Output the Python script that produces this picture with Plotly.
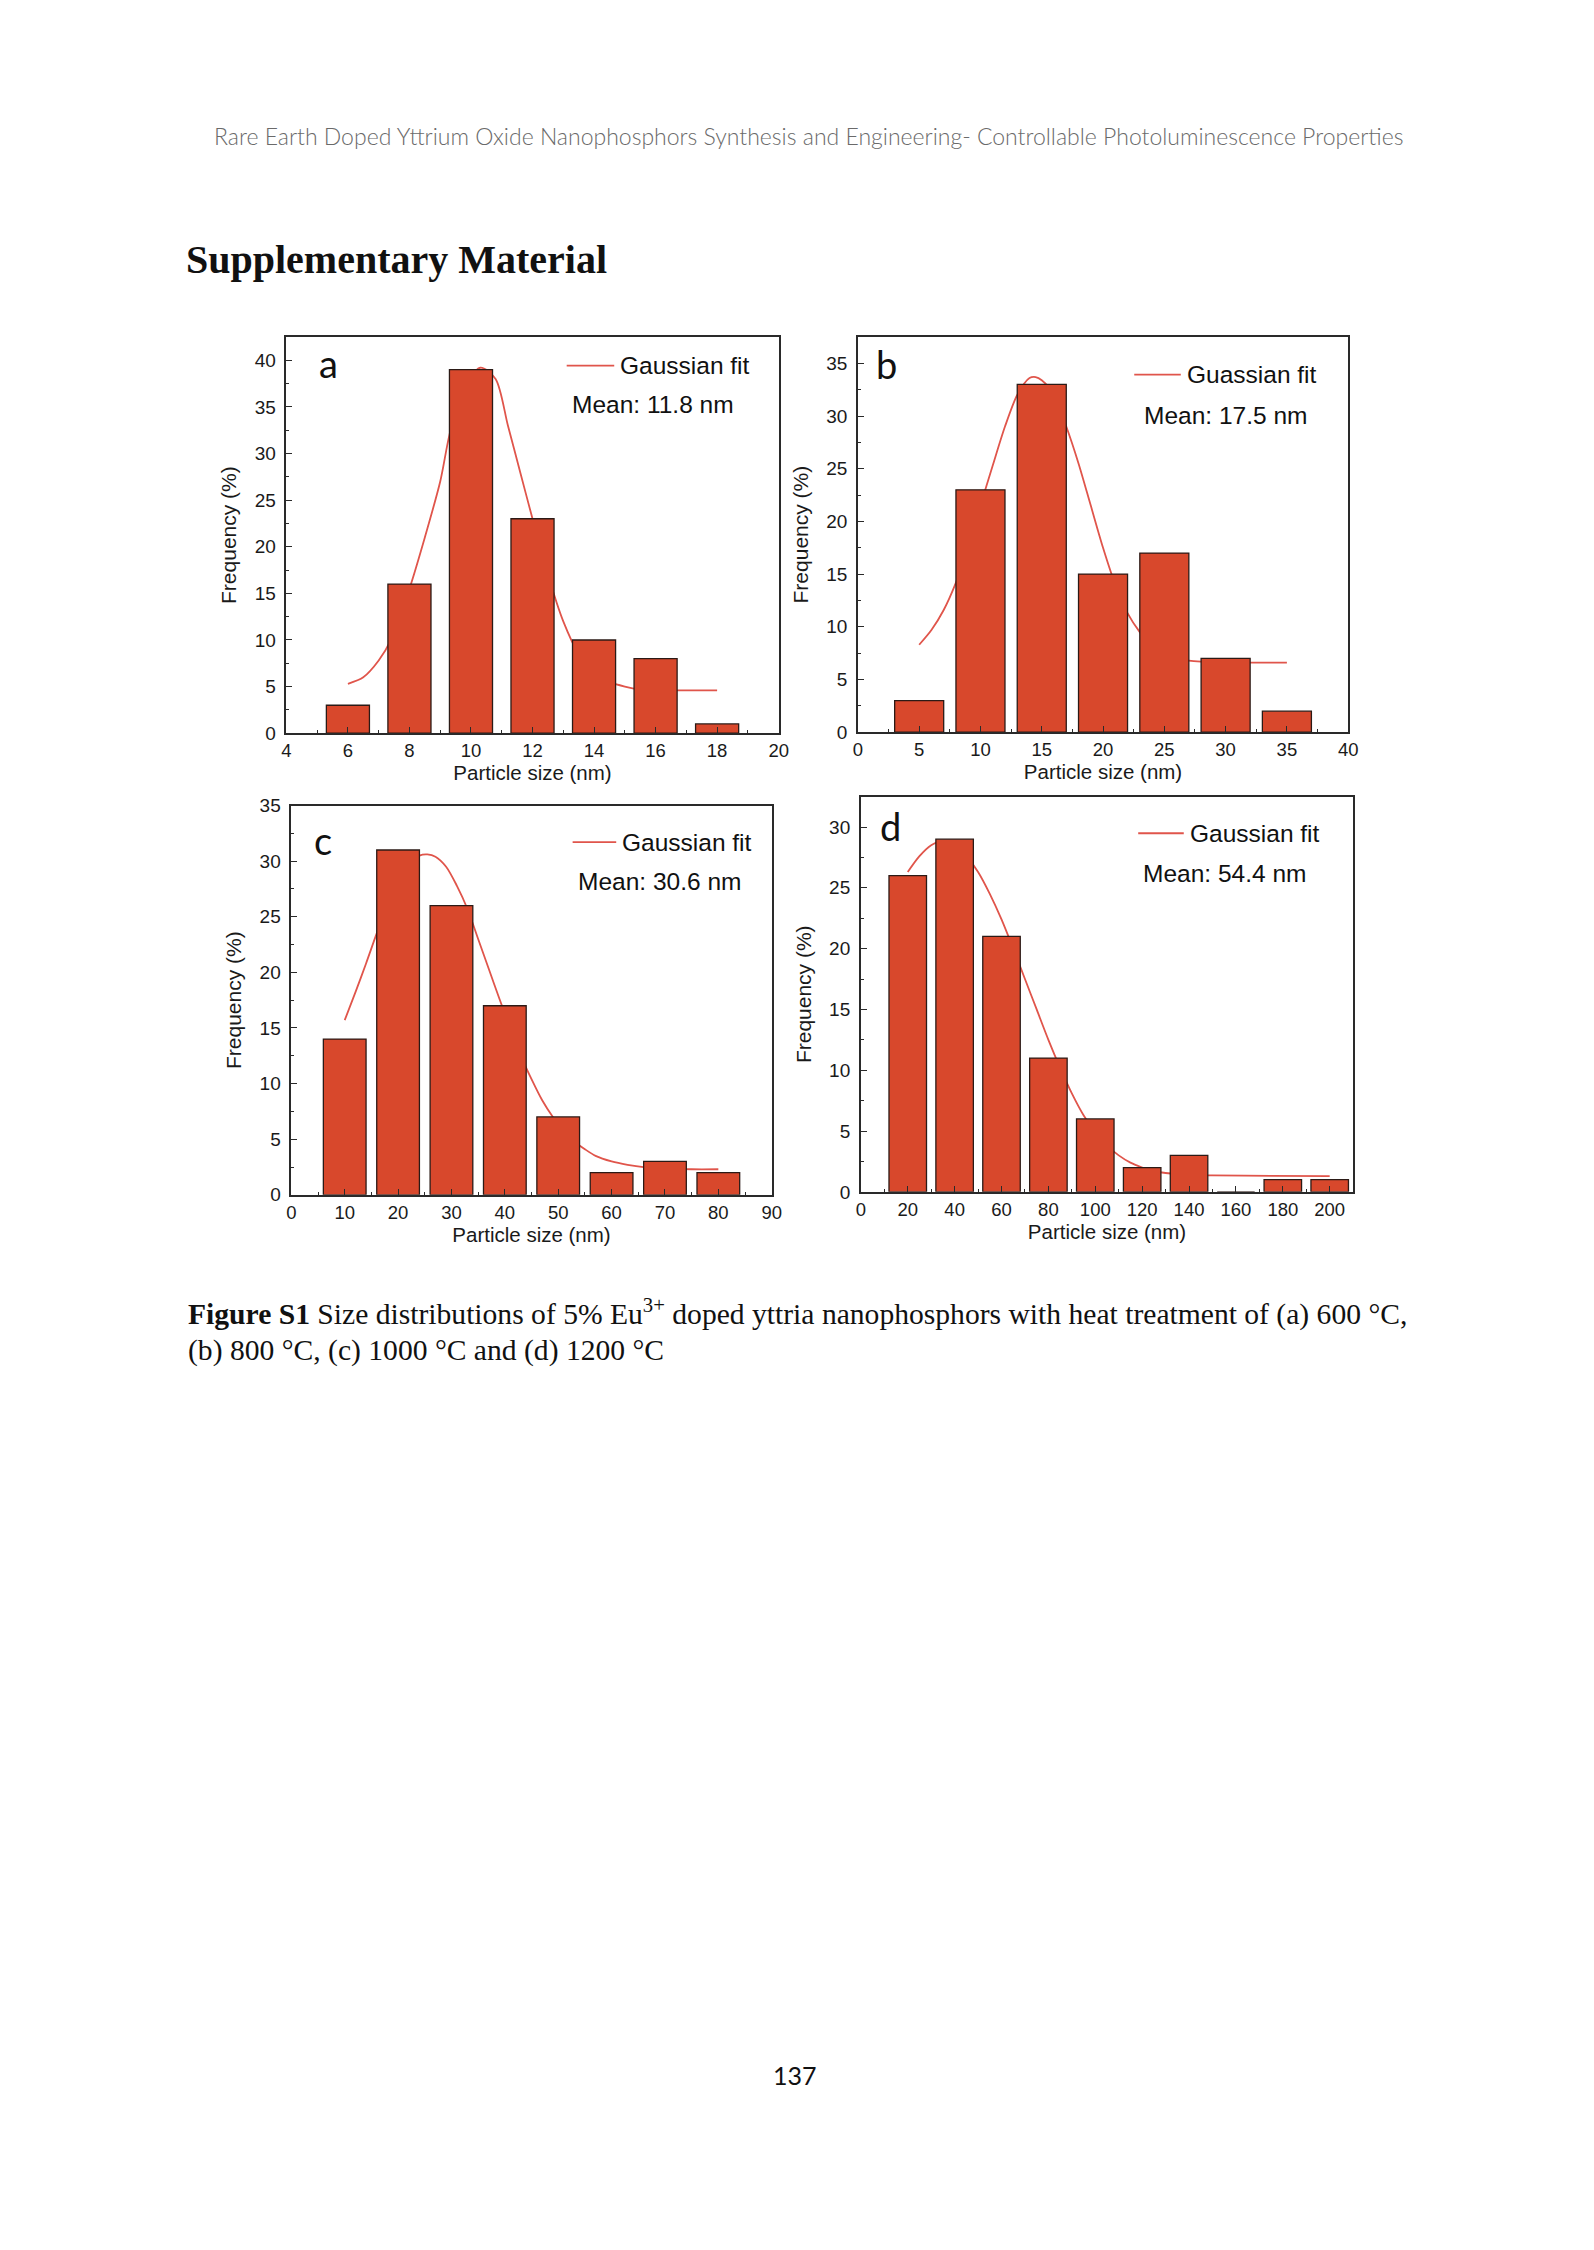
import plotly.graph_objects as go

# ---------------- data ----------------
a_sizes = [6, 8, 10, 12, 14, 16, 18]
a_freq = [3, 16, 39, 23, 10, 8, 1]
a_fit_x = [6, 6.5, 7, 7.4, 8, 8.5, 9, 9.3, 9.7, 10.3, 10.8, 11.2, 11.6, 12, 12.5, 13, 13.5, 14, 14.5, 15, 15.5, 16, 17, 18]
a_fit_y = [5.3, 6.0, 7.8, 10.0, 15.5, 21, 27, 32, 36.5, 39.2, 38, 33, 28, 23, 17, 12, 8.5, 6.5, 5.5, 5.0, 4.7, 4.6, 4.6, 4.6]

b_sizes = [5, 10, 15, 20, 25, 30, 35]
b_freq = [3, 23, 33, 15, 17, 7, 2]
b_fit_x = [5, 6, 7, 8, 9, 10, 11, 12, 13, 14, 14.5, 15, 16, 17, 18, 19, 20, 21, 22, 23, 24, 25, 26, 27, 28, 30, 32, 35]
b_fit_y = [8.3, 9.7, 11.6, 14.2, 17.5, 21.5, 25.3, 29, 32, 33.6, 33.7, 33.4, 32, 29, 25.5, 21.5, 17.5, 14, 11.3, 9.5, 8.2, 7.4, 7.0, 6.8, 6.7, 6.6, 6.6, 6.6]

c_sizes = [10, 20, 30, 40, 50, 60, 70, 80]
c_freq = [14, 31, 26, 17, 7, 2, 3, 2]
c_fit_x = [10, 12, 14, 16, 18, 20, 22, 24, 25.5, 27, 29, 31, 33, 35, 37, 39, 41, 43, 45, 47, 49, 51, 53, 55, 57, 60, 63, 66, 70, 75, 80]
c_fit_y = [15.7, 18.2, 20.8, 23.5, 26, 28.2, 29.8, 30.5, 30.6, 30.4, 29.5, 27.8, 25.7, 23, 20.3, 17.6, 15, 12.5, 10.4, 8.5, 7, 5.8, 4.8, 4.1, 3.5, 3.0, 2.7, 2.5, 2.4, 2.3, 2.3]

d_sizes = [20, 40, 60, 80, 100, 120, 140, 160, 180, 200]
d_freq = [26, 29, 21, 11, 6, 2, 3, 0, 1, 1]
d_fit_x = [20, 25, 30, 34, 40, 45, 50, 55, 60, 65, 70, 75, 80, 85, 90, 95, 100, 105, 110, 115, 120, 125, 130, 140, 150, 175, 200]
d_fit_y = [26.3, 27.6, 28.5, 28.8, 28.5, 27.6, 26.3, 24.5, 22.4, 20.0, 17.5, 15.0, 12.5, 10.2, 8.1, 6.3, 4.9, 3.8, 3.0, 2.4, 2.0, 1.7, 1.55, 1.4, 1.35, 1.32, 1.3]

panel_letters = ["a", "b", "c", "d"]
legend_labels = ["Gaussian fit", "Guassian fit", "Gaussian fit", "Gaussian fit"]
mean_labels = ["Mean: 11.8 nm", "Mean: 17.5 nm", "Mean: 30.6 nm", "Mean: 54.4 nm"]
x_ticks = [list(range(4, 21, 2)), list(range(0, 41, 5)), list(range(0, 91, 10)), list(range(0, 201, 20))]
y_ticks = [list(range(0, 41, 5)), list(range(0, 36, 5)), list(range(0, 36, 5)), list(range(0, 31, 5))]

header_text = "Rare Earth Doped Yttrium Oxide Nanophosphors Synthesis and Engineering- Controllable Photoluminescence Properties"
section_title = "Supplementary Material"
caption_line1 = "<b>Figure S1</b> Size distributions of 5% Eu<sup>3+</sup> doped yttria nanophosphors with heat treatment of (a) 600 °C,"
caption_line2 = "(b) 800 °C, (c) 1000 °C and (d) 1200 °C"
page_number = "137"

# ---------------- layout geometry (page pixels) ----------------
PAGE_MARGIN = 8            # default body margin of the html page
W, H = 1594 - 2 * PAGE_MARGIN, 2250 - 2 * PAGE_MARGIN

def px(x):
    return (x - PAGE_MARGIN) / W

def py(y):
    return 1 - (y - PAGE_MARGIN) / H

panels = [
    dict(box=(284, 781, 330, 730), xr=[4, 20], yr=[0, 42.5], width=1.4, sx=a_sizes, sy=a_freq, fx=a_fit_x, fy=a_fit_y, xminor=1, yminor=2.5,
         letter=(327, 356), leg=(567, 615, 359), mean=(570, 398)),
    dict(box=(861, 1356, 330, 729), xr=[0, 40], yr=[0, 37.5], width=4, sx=b_sizes, sy=b_freq, fx=b_fit_x, fy=b_fit_y, xminor=2.5, yminor=2.5,
         letter=(890, 357), leg=(1140, 1187, 368), mean=(1148, 409)),
    dict(box=(289, 774, 803, 1196), xr=[0, 90], yr=[0, 35], width=8, sx=c_sizes, sy=c_freq, fx=c_fit_x, fy=c_fit_y, xminor=5, yminor=2.5,
         letter=(321, 838), leg=(573, 617, 840), mean=(576, 880)),
    dict(box=(864, 1361, 794, 1193), xr=[0, 210], yr=[0, 32.5], width=16, sx=d_sizes, sy=d_freq, fx=d_fit_x, fy=d_fit_y, xminor=10, yminor=2.5,
         letter=(894, 824), leg=(1144, 1190, 831), mean=(1147, 872)),
]

BAR_COLOR = "#D8482C"
FIT_COLOR = "#E0554B"
AX_COLOR = "#2a2a2a"
SANS = "Liberation Sans, Arial, sans-serif"
SERIF = "Liberation Serif, Times New Roman, serif"
HUMAN = "Lato, Open Sans, sans-serif"

fig = go.Figure()
layout = dict(
    width=W, height=H, margin=dict(l=0, r=0, t=0, b=0),
    paper_bgcolor="white", plot_bgcolor="white", showlegend=False,
    annotations=[], shapes=[],
)

for i, p in enumerate(panels):
    n = i + 1
    ov = i + 5
    xa = "xaxis" if n == 1 else f"xaxis{n}"
    ya = "yaxis" if n == 1 else f"yaxis{n}"
    xid = "x" if n == 1 else f"x{n}"
    yid = "y" if n == 1 else f"y{n}"
    x0, x1, y0, y1 = p["box"]

    # fit curve on the base subplot (drawn beneath the bars)
    fig.add_trace(go.Scatter(x=p["fx"], y=p["fy"], mode="lines", xaxis=xid, yaxis=yid,
                             line=dict(color=FIT_COLOR, width=1.8, shape="spline", smoothing=0.8),
                             hoverinfo="skip"))
    # bars on an overlaid subplot so they cover the curve
    fig.add_trace(go.Bar(x=p["sx"], y=p["sy"], width=p["width"], xaxis=f"x{ov}", yaxis=f"y{ov}",
                         marker=dict(color=BAR_COLOR, line=dict(color="#2b1a16", width=1.3))))

    layout[xa] = dict(
        domain=[px(x0), px(x1)], range=p["xr"], anchor=yid,
        showline=True, linecolor=AX_COLOR, linewidth=1.6, mirror=True,
        ticks="inside", ticklen=6, tickwidth=1.4, tickcolor=AX_COLOR,
        tickvals=x_ticks[i], tickfont=dict(family=SANS, size=18.5, color="#1a1a1a"),
        minor=dict(dtick=p["xminor"], tick0=0, ticks="inside", ticklen=3, tickwidth=1.2, tickcolor=AX_COLOR),
        showgrid=False, zeroline=False,
        title=dict(text="Particle size (nm)", font=dict(family=SANS, size=20.5, color="#1a1a1a"), standoff=5),
    )
    layout[ya] = dict(
        domain=[py(y1), py(y0)], range=p["yr"], anchor=xid,
        showline=True, linecolor=AX_COLOR, linewidth=1.6, mirror=True,
        ticks="inside", ticklen=6, tickwidth=1.4, tickcolor=AX_COLOR,
        tickvals=y_ticks[i], tickfont=dict(family=SANS, size=19, color="#1a1a1a"), ticklabelstandoff=5,
        minor=dict(dtick=p["yminor"], tick0=0, ticks="inside", ticklen=3, tickwidth=1.2, tickcolor=AX_COLOR),
        showgrid=False, zeroline=False,
        title=dict(text="Frequency (%)", font=dict(family=SANS, size=21, color="#1a1a1a"), standoff=12),
    )
    layout[f"xaxis{ov}"] = dict(overlaying=xid, range=p["xr"], visible=False, anchor=f"y{ov}")
    layout[f"yaxis{ov}"] = dict(overlaying=yid, range=p["yr"], visible=False, anchor=f"x{ov}")

    lx, ly = p["letter"]
    layout["annotations"].append(dict(text=panel_letters[i], x=px(lx), y=py(ly), xref="paper", yref="paper",
                                      xanchor="center", yanchor="middle", showarrow=False,
                                      font=dict(family=HUMAN, size=38, color="#111")))
    gx0, gx1, gy = p["leg"]
    layout["shapes"].append(dict(type="line", xref="paper", yref="paper", x0=px(gx0), x1=px(gx1), y0=py(gy), y1=py(gy),
                                 line=dict(color=FIT_COLOR, width=1.8)))
    layout["annotations"].append(dict(text=legend_labels[i], x=px(gx1 + 4), y=py(gy), xref="paper", yref="paper",
                                      xanchor="left", yanchor="middle", showarrow=False,
                                      font=dict(family=SANS, size=24.5, color="#111")))
    mx, my = p["mean"]
    layout["annotations"].append(dict(text=mean_labels[i], x=px(mx), y=py(my), xref="paper", yref="paper",
                                      xanchor="left", yanchor="middle", showarrow=False,
                                      font=dict(family=SANS, size=24.5, color="#111")))

# page texts
layout["annotations"] += [
    dict(text=header_text, x=px(811), y=py(127), xref="paper", yref="paper", xanchor="center", yanchor="middle",
         showarrow=False, font=dict(family=HUMAN, size=23, color="#6a6a6a", weight=300)),
    dict(text=f"<b>{section_title}</b>", x=px(181), y=py(252), xref="paper", yref="paper", xanchor="left", yanchor="middle",
         showarrow=False, font=dict(family=SERIF, size=40, color="#111")),
    dict(text=caption_line1, x=px(183), y=py(1315), xref="paper", yref="paper", xanchor="left", yanchor="middle",
         showarrow=False, font=dict(family=SERIF, size=29.6, color="#111")),
    dict(text=caption_line2, x=px(183), y=py(1353), xref="paper", yref="paper", xanchor="left", yanchor="middle",
         showarrow=False, font=dict(family=SERIF, size=29.6, color="#111")),
    dict(text=page_number, x=px(798), y=py(2085), xref="paper", yref="paper", xanchor="center", yanchor="middle",
         showarrow=False, font=dict(family=HUMAN, size=25, color="#111")),
]

fig.update_layout(**layout)
fig.write_html("out.html")
